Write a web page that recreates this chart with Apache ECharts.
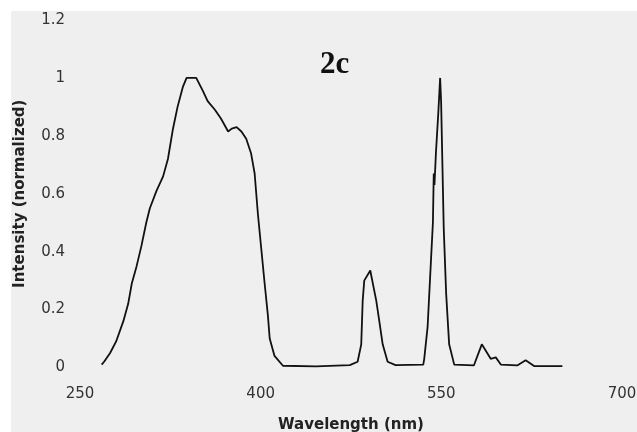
<!DOCTYPE html>
<html>
<head>
<meta charset="utf-8">
<title>2c</title>
<script src="https://cdn.jsdelivr.net/npm/echarts@6/dist/echarts.min.js"></script>
<style>
  html, body { margin: 0; padding: 0; background: #fff; }
  #chart { width: 637px; height: 432px; }
</style>
</head>
<body>
<div id="chart"></div>
<script>
// spectrum (nm / normalized intensity)
const wavelengths = [
  268, 270, 275, 280, 286, 290, 293, 297, 301, 305, 308, 313.5, 319, 323, 327, 331, 335.5, 338.5,
  346.5, 352, 356, 362, 367, 373, 376, 380, 384, 388, 392, 395, 397.7, 400.5, 403.3, 406, 407.5,
  411.5, 418.5, 446, 474, 480.5, 483.5, 484.7, 486, 487.5, 491, 496, 498.5, 501.3, 505.4, 512,
  535, 535.8, 538.6, 541.4, 543, 543.7, 544.3, 545.5, 547.5, 549, 549.8, 552, 554, 556.5, 560.7,
  577, 583.6, 591, 595.2, 599.4, 613, 620, 627, 650.5
]
const intensity = [
  0.01, 0.02, 0.05, 0.09, 0.16, 0.22, 0.29, 0.35, 0.42, 0.5, 0.55, 0.61, 0.66, 0.72, 0.82, 0.9, 0.97, 1.0,
  1.0, 0.955, 0.92, 0.89, 0.86, 0.815, 0.825, 0.83, 0.815, 0.79, 0.74, 0.67, 0.53, 0.41, 0.29, 0.18, 0.1,
  0.04, 0.006, 0.004, 0.008, 0.02, 0.08, 0.23, 0.3, 0.295, 0.335, 0.23, 0.16, 0.08, 0.02, 0.008,
  0.01, 0.03, 0.14, 0.37, 0.5, 0.67, 0.63, 0.74, 0.88, 1.0, 0.92, 0.48, 0.255, 0.08, 0.01,
  0.007, 0.08, 0.03, 0.035, 0.01, 0.007, 0.025, 0.005, 0.005
]
const xTicks = [250, 400, 550, 700]
const yTicks = [0, 0.2, 0.4, 0.6, 0.8, 1, 1.2]

const chart = echarts.init(document.getElementById('chart'))

const labelStyle = {
  fontFamily: 'DejaVu Sans',
  fontSize: 15,
  color: '#333'
}

chart.setOption({
  animation: false,
  backgroundColor: '#fff',
  graphic: [
    {
      type: 'rect',
      z: -10,
      shape: { x: 11, y: 11, width: 626, height: 421 },
      style: { fill: '#efefef' }
    }
  ],
  title: {
    text: '2c',
    left: 320,
    top: 49,
    padding: 0,
    textStyle: {
      fontFamily: 'Liberation Serif',
      fontWeight: 'bold',
      fontSize: 31,
      color: '#111'
    }
  },
  grid: {
    left: 80,
    right: 15,
    top: 20,
    bottom: 64.5,
    containLabel: false,
    outerBoundsMode: 'none'
  },
  xAxis: {
    type: 'value',
    min: xTicks[0],
    max: xTicks[xTicks.length - 1],
    interval: 150,
    name: 'Wavelength (nm)',
    nameLocation: 'middle',
    nameGap: 50,
    nameTextStyle: {
      fontFamily: 'DejaVu Sans',
      fontWeight: 'bold',
      fontSize: 15,
      color: '#222'
    },
    axisLine: { show: false },
    axisTick: { show: false },
    splitLine: { show: false },
    axisLabel: { ...labelStyle, margin: 19 }
  },
  yAxis: {
    type: 'value',
    min: yTicks[0],
    max: yTicks[yTicks.length - 1],
    interval: 0.2,
    name: 'Intensity (normalized)',
    nameLocation: 'middle',
    nameGap: 52,
    nameTextStyle: {
      fontFamily: 'DejaVu Sans',
      fontWeight: 'bold',
      fontSize: 15,
      color: '#222'
    },
    axisLine: { show: false },
    axisTick: { show: false },
    splitLine: { show: false },
    axisLabel: {
      ...labelStyle,
      margin: 15,
      formatter: (v) => String(Math.round(v * 10) / 10)
    }
  },
  series: [
    {
      type: 'line',
      data: wavelengths.map((w, i) => [w, intensity[i]]),
      showSymbol: false,
      smooth: false,
      lineStyle: { color: '#111', width: 1.8 }
    }
  ]
})
</script>
</body>
</html>
